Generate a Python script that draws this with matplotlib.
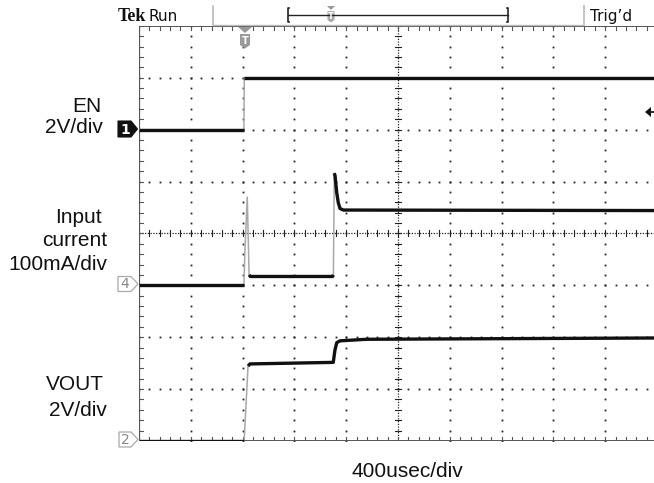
import numpy as np
import matplotlib
matplotlib.use('Agg')
import matplotlib.pyplot as plt
from matplotlib.patches import Polygon

# ---------------- data (time in usec from left screen edge) ----------------
en_t = [0, 810, 813, 4000]
en_v = [0.0, 0.0, 2.0, 2.0]                      # V, 2V/div, ground at div 6

cur_t = [0, 810, 818, 836, 850, 860, 1495, 1501, 1508, 1514, 1527, 1539, 1552, 1578, 4000]
cur_ma = [0, 0, 68, 170, 20, 17, 17, 20, 216, 211, 178, 159, 148, 145, 144]  # mA, 100mA/div, ground div 3

vout_t = [0, 812, 842, 857, 1500, 1513, 1527, 1552, 1758, 4000]
vout_v = [0.0, 0.0, 2.89, 2.97, 3.03, 3.5, 3.79, 3.86, 3.92, 3.97]  # V, 2V/div, ground div 0

labels = [("EN", 101, 112), ("2V/div", 103, 133),
          ("Input", 102, 223), ("current", 107, 246.5), ("100mA/div", 107, 270),
          ("VOUT", 104, 390.5), ("2V/div", 107, 415.5)]
time_label = "400usec/div"

W, H = 654, 483
fig = plt.figure(figsize=(W / 100, H / 100), dpi=100)
fig.patch.set_facecolor('white')

# scope graticule: 10 x 8 divisions, 51.8 px per div, left 139 px, bottom 441 px
DIV_X, DIV_Y = 51.8, 51.9
ax = fig.add_axes([139 / W, (H - 441) / H, 10 * DIV_X / W, 8 * DIV_Y / H])
ax.set_xlim(0, 10)
ax.set_ylim(0, 8)
ax.axis('off')

px_x = 1 / DIV_X
px_y = 1 / DIV_Y
gc = '#222222'

# dotted major grid
for i in range(1, 10):
    if i == 5:
        continue
    ys = np.arange(0, 8.001, 0.2)
    ax.plot(np.full_like(ys, i), ys, ls='none', marker='s', ms=1.3, mew=0, color=gc, zorder=1)
for j in range(1, 8):
    if j == 4:
        continue
    xs = np.arange(0, 10.001, 0.2)
    ax.plot(xs, np.full_like(xs, j), ls='none', marker='s', ms=1.3, mew=0, color=gc, zorder=1)

# center cross lines
ax.plot([0, 10], [4, 4], ls=(0, (1, 1.2)), lw=0.9, color=gc, zorder=1)
ax.plot([5, 5], [0, 8], ls=(0, (1, 1.2)), lw=0.9, color=gc, zorder=1)
for x in np.arange(0, 10.001, 0.2):
    ax.plot([x, x], [4 - 3 * px_y, 4 + 3 * px_y], lw=0.8, color=gc, zorder=1)
for y in np.arange(0, 8.001, 0.2):
    ax.plot([5 - 3 * px_x, 5 + 3 * px_x], [y, y], lw=0.8, color=gc, zorder=1)

# border with ruler ticks
bc = '#555555'
ax.plot([0, 0], [0, 8], lw=1.6, color=bc, zorder=2, solid_capstyle='butt')
ax.plot([0, 10], [8, 8], lw=1.4, color=bc, zorder=2, solid_capstyle='butt')
ax.plot([0, 10], [0, 0], lw=1.4, color=bc, zorder=2, solid_capstyle='butt')
for x in np.arange(0, 10.001, 0.2):
    ax.plot([x, x], [8, 8 - 4 * px_y], lw=0.8, color=bc, zorder=2)
    ax.plot([x, x], [0, 4 * px_y], lw=0.8, color=bc, zorder=2)
for y in np.arange(0, 8.001, 0.2):
    ax.plot([0, 4 * px_x], [y, y], lw=0.8, color=bc, zorder=2)


def draw_trace(t, v, scale, offset):
    x = np.asarray(t, float) / 400.0
    y = offset + np.asarray(v, float) / scale
    ax.plot(x, y, color='#a8a8a8', lw=1.1, zorder=3, clip_on=True)
    dx = np.diff(x)
    dy = np.diff(y)
    slope = np.abs(dy) / np.maximum(dx, 1e-9)
    flat = slope < 15
    i = 0
    n = len(flat)
    while i < n:
        if flat[i]:
            j = i
            while j < n and flat[j]:
                j += 1
            ax.plot(x[i:j + 1], y[i:j + 1], color='#111111', lw=2.4, zorder=4,
                    solid_joinstyle='round', solid_capstyle='butt')
            i = j
        else:
            i += 1


draw_trace(en_t, en_v, 2.0, 6.0)
draw_trace(cur_t, cur_ma, 100.0, 3.0)
draw_trace(vout_t, vout_v, 2.0, 0.0)

# ---------------- overlay in pixel coordinates ----------------
ov = fig.add_axes([0, 0, 1, 1])
ov.set_xlim(0, W)
ov.set_ylim(H, 0)
ov.axis('off')
ov.patch.set_alpha(0)

# status bar
ov.text(118, 21, "Tek", fontfamily='Liberation Serif', fontweight='bold', fontsize=13,
        ha='left', va='baseline', color='#111')
ov.text(149, 21, "Run", fontfamily='DejaVu Sans', fontsize=11, ha='left', va='baseline', color='#111')
ov.text(590, 21, "Trig\u2019d", fontfamily='DejaVu Sans', fontsize=11, ha='left', va='baseline', color='#111')
ov.plot([213, 584], [25, 25], color='#bbbbbb', lw=1.0)
ov.plot([213, 213], [6, 25], color='#bbbbbb', lw=1.2)
ov.plot([584, 584], [6, 25], color='#bbbbbb', lw=1.2)
# record bracket
ov.plot([288, 508], [14.5, 14.5], color='#222', lw=1.0)
ov.plot([289, 288, 288, 289], [8, 8, 22, 22], color='#222', lw=1.2)
ov.plot([507, 508, 508, 507], [8, 8, 22, 22], color='#222', lw=1.2)
ov.add_patch(Polygon([(327, 6), (335, 6), (331, 10)], closed=True, fc='#999', ec='none'))
ov.add_patch(Polygon([(327.5, 11), (334.5, 11), (334.5, 20), (331, 22.5), (327.5, 20)],
                     closed=True, fc='#aaa', ec='none'))
ov.text(331, 16.5, "T", fontsize=6, color='white', fontweight='bold', ha='center', va='center')

# trigger position marker
ov.add_patch(Polygon([(238, 27), (252, 27), (245, 33)], closed=True, fc='#999', ec='none'))
ov.add_patch(Polygon([(240, 34), (250, 34), (250, 45), (245, 48.5), (240, 45)],
                     closed=True, fc='#999', ec='none'))
ov.text(245, 40.5, "T", fontsize=7, color='white', fontweight='bold', ha='center', va='center')

# channel ground markers
ov.add_patch(Polygon([(118, 121), (131, 121), (137.5, 129), (131, 137), (118, 137)],
                     closed=True, fc='#111', ec='#111', lw=0.8))
ov.text(125, 129.5, "1", fontsize=10, color='white', fontweight='bold', ha='center', va='center')
ov.add_patch(Polygon([(118, 276.5), (131, 276.5), (138, 284), (131, 291.5), (118, 291.5)],
                     closed=True, fc='white', ec='#aaa', lw=0.9))
ov.text(125, 284.5, "4", fontsize=10, color='#888', ha='center', va='center')
ov.add_patch(Polygon([(119, 432), (131, 432), (138, 439.5), (131, 447), (119, 447)],
                     closed=True, fc='white', ec='#aaa', lw=0.9))
ov.text(125.5, 440, "2", fontsize=10, color='#888', ha='center', va='center')

# trigger level arrow
ov.add_patch(Polygon([(645, 112), (651, 107), (651, 117)], closed=True, fc='#111', ec='none'))
ov.plot([650, 654], [112, 112], color='#111', lw=1.2)

# channel labels
for txt, xr, yb in labels:
    ov.text(xr, yb, txt, fontfamily='Liberation Sans', fontsize=15, ha='right', va='baseline', color='#111')
ov.text(407, 476.7, time_label, fontfamily='Liberation Sans', fontsize=15, ha='center',
        va='baseline', color='#111')

fig.savefig('out.png', dpi=100, facecolor='white')
